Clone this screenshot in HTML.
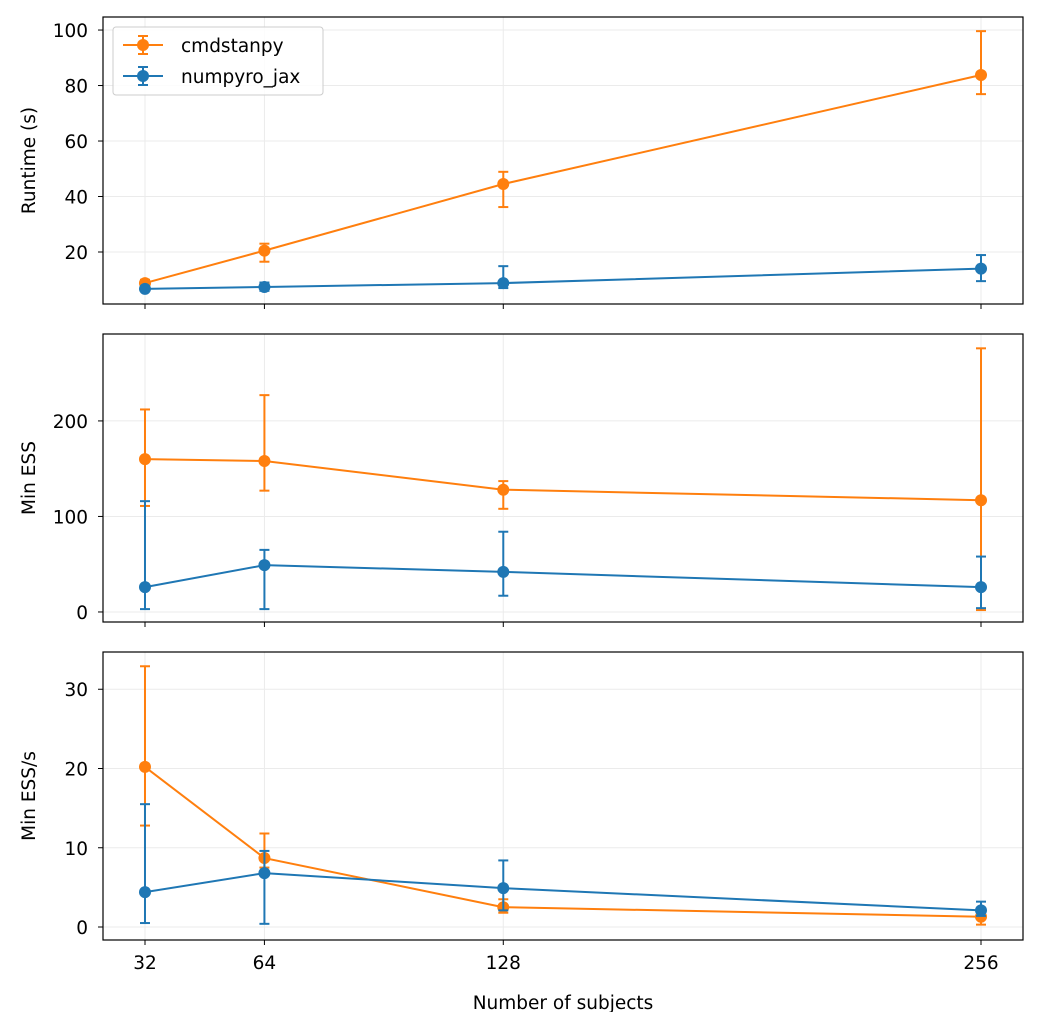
<!DOCTYPE html>
<html><head><meta charset="utf-8"><style>
body{margin:0;background:#fff;font-family:"DejaVu Sans","Liberation Sans",sans-serif}
svg text{font-family:"DejaVu Sans","Liberation Sans",sans-serif;font-size:18.5px;fill:#000}
</style></head><body>
<svg id="chart" width="1042" height="1012" xmlns="http://www.w3.org/2000/svg"></svg>
<script>
const subjects=[32,64,128,256];
const seriesNames=["cmdstanpy","numpyro_jax"];
const colors=["#ff7f0e","#1f77b4"];
const runtimeCmd=[8.8,20.5,44.5,83.8];
const runtimeCmdLo=[7.8,16.5,36.2,76.9];
const runtimeCmdHi=[10.0,23.0,48.9,99.6];
const runtimeNum=[6.7,7.4,8.8,14.0];
const runtimeNumLo=[6.2,6.0,7.0,9.5];
const runtimeNumHi=[7.5,9.0,14.9,18.9];
const essCmd=[160,158,128,117];
const essCmdLo=[111,127,108,2];
const essCmdHi=[212,227,137,276];
const essNum=[26,49,42,26];
const essNumLo=[3,3,17,4];
const essNumHi=[116,65,84,58];
const esssCmd=[20.2,8.7,2.5,1.3];
const esssCmdLo=[12.8,7.5,1.8,0.3];
const esssCmdHi=[32.9,11.8,3.5,2.0];
const esssNum=[4.4,6.8,4.9,2.1];
const esssNumLo=[0.5,0.4,2.1,1.4];
const esssNumHi=[15.5,9.6,8.4,3.2];
const ticks1=[20,40,60,80,100];
const ticks2=[0,100,200];
const ticks3=[0,10,20,30];

const NS="http://www.w3.org/2000/svg";
const svg=document.getElementById('chart');
function mk(tag,attrs,parent){const e=document.createElementNS(NS,tag);for(const k in attrs)e.setAttribute(k,attrs[k]);(parent||svg).appendChild(e);return e;}
const L=103,R=1023,xmin=20.75,xmax=267.25;
const xs=v=>L+(v-xmin)/(xmax-xmin)*(R-L);
const panels=[
 {name:"runtime",top:17,bot:304,ymin:1.26,ymax:104.7,ticks:ticks1,label:"Runtime (s)",d:[[runtimeCmd,runtimeCmdLo,runtimeCmdHi],[runtimeNum,runtimeNumLo,runtimeNumHi]]},
 {name:"min-ess",top:334,bot:622,ymin:-10.5,ymax:291,ticks:ticks2,label:"Min ESS",d:[[essCmd,essCmdLo,essCmdHi],[essNum,essNumLo,essNumHi]]},
 {name:"min-ess-per-s",top:652,bot:940,ymin:-1.64,ymax:34.7,ticks:ticks3,label:"Min ESS/s",d:[[esssCmd,esssCmdLo,esssCmdHi],[esssNum,esssNumLo,esssNumHi]]}
];
panels.forEach((p,pi)=>{
 const g=mk('g',{});
 
 
 const ys=v=>p.bot-(v-p.ymin)/(p.ymax-p.ymin)*(p.bot-p.top);
 subjects.forEach(s=>{mk('line',{x1:xs(s),x2:xs(s),y1:p.top,y2:p.bot,stroke:'#ebebeb','stroke-width':1},g);
  mk('line',{x1:xs(s),x2:xs(s),y1:p.bot,y2:p.bot+5,stroke:'#000','stroke-width':1},g);
  if(pi===2){const t=mk('text',{x:xs(s),y:p.bot+29,'text-anchor':'middle'},g);t.textContent=s;}});
 p.ticks.forEach(v=>{const y=ys(v);mk('line',{x1:L,x2:R,y1:y,y2:y,stroke:'#ebebeb','stroke-width':1},g);
  mk('line',{x1:L-5,x2:L,y1:y,y2:y,stroke:'#000'},g);
  const t=mk('text',{x:L-15,y:y+7,'text-anchor':'end'},g);t.textContent=v;});
 const yl=mk('text',{x:0,y:0,'text-anchor':'middle',transform:`translate(35,${(p.top+p.bot)/2}) rotate(-90)`},g);
 yl.textContent=p.label;
 
 
 p.d.forEach((ser,si)=>{
  const [v,lo,hi]=ser,c=colors[si];
  const sg=mk('g',{},g);
  
  
  v.forEach((val,i)=>{const x=xs(subjects[i]);
   mk('line',{x1:x,x2:x,y1:ys(lo[i]),y2:ys(hi[i]),stroke:c,'stroke-width':2},sg);
   mk('line',{x1:x-5,x2:x+5,y1:ys(lo[i]),y2:ys(lo[i]),stroke:c,'stroke-width':2},sg);
   mk('line',{x1:x-5,x2:x+5,y1:ys(hi[i]),y2:ys(hi[i]),stroke:c,'stroke-width':2},sg);});
  mk('polyline',{points:v.map((val,i)=>xs(subjects[i])+','+ys(val)).join(' '),fill:'none',stroke:c,'stroke-width':2},sg);
  v.forEach((val,i)=>{const pt=mk('circle',{cx:xs(subjects[i]),cy:ys(val),r:6,fill:c},sg);
   
   });
 });
 mk('rect',{x:L,y:p.top,width:R-L,height:p.bot-p.top,fill:'none',stroke:'#000','stroke-width':1.2},g);
});
const xt=mk('text',{x:563,y:1009,'text-anchor':'middle'});xt.textContent="Number of subjects";


const lg=mk('g',{});


mk('rect',{x:113,y:27,width:210,height:68,rx:3,fill:'#fff','fill-opacity':0.85,stroke:'#ccc'},lg);
seriesNames.forEach((n,i)=>{const y=45+i*31;
 const e=mk('g',{},lg);
 
 
 mk('line',{x1:123,x2:163,y1:y,y2:y,stroke:colors[i],'stroke-width':2},e);
 mk('line',{x1:143,x2:143,y1:y-9,y2:y+9,stroke:colors[i],'stroke-width':2},e);
 mk('line',{x1:138,x2:148,y1:y-9,y2:y-9,stroke:colors[i],'stroke-width':2},e);
 mk('line',{x1:138,x2:148,y1:y+9,y2:y+9,stroke:colors[i],'stroke-width':2},e);
 mk('circle',{cx:143,cy:y,r:6,fill:colors[i]},e);
 const t=mk('text',{x:181,y:y+7},e);t.textContent=n;});
</script>
</body></html>
